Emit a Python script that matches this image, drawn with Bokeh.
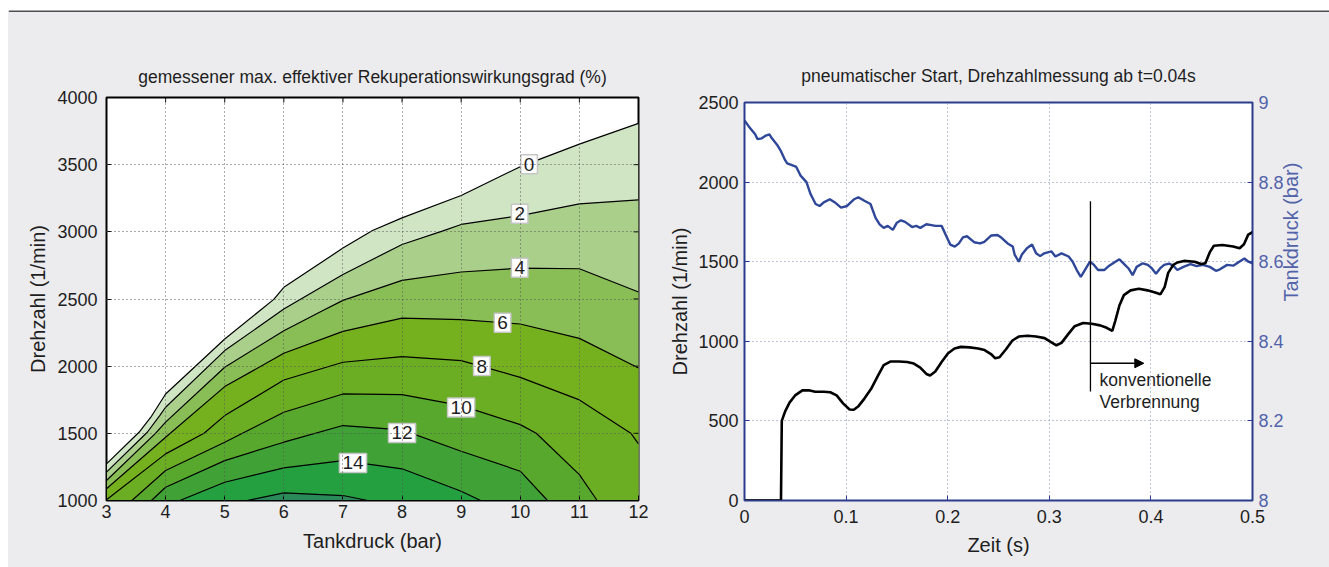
import math
from bokeh.plotting import figure
from bokeh.models import Range1d, LinearAxis, FixedTicker, Label, Arrow, NormalHead, Spacer
from bokeh.layouts import row, column
from bokeh.embed import file_html
from bokeh.resources import INLINE

FONT = "Liberation Sans"
BG = "#ececee"

# ---------------- left chart: contour lines (x = Tankdruck bar, y = Drehzahl 1/min) ----------------
levels = [0, 2, 4, 6, 8, 10, 12, 14, 16]
lvl_0_x = [3, 3.55, 3.75, 4, 5, 5.83, 6, 7, 7.5, 8, 9, 10, 11, 12]
lvl_0_y = [1273, 1508, 1620, 1793, 2202, 2497, 2587, 2879, 3010, 3104, 3270, 3485, 3653, 3807]
lvl_2_x = [3, 3.69, 3.9, 4, 5, 6, 7, 8, 8.68, 9, 10, 11, 12]
lvl_2_y = [1211, 1508, 1632, 1694, 2116, 2425, 2683, 2906, 3005, 3055, 3121, 3208, 3238]
lvl_4_x = [3, 3.82, 4, 5, 6, 6.67, 7, 8, 9, 10, 11, 12]
lvl_4_y = [1149, 1496, 1583, 1992, 2264, 2416, 2490, 2639, 2701, 2730, 2725, 2552]
lvl_6_x = [3, 4, 5, 6, 7, 8, 9, 10, 11, 12]
lvl_6_y = [1087, 1471, 1848, 2096, 2259, 2358, 2346, 2314, 2207, 1987]
lvl_8_x = [3, 4, 4.65, 5, 6, 7, 8, 9, 10, 11, 11.87, 12]
lvl_8_y = [1005, 1347, 1501, 1632, 1897, 2029, 2071, 2041, 1917, 1749, 1501, 1421]
lvl_10_x = [3.43, 4, 5, 5.3, 6, 7, 8, 9, 10, 10.27, 11, 11.3]
lvl_10_y = [1000, 1223, 1434, 1501, 1657, 1793, 1788, 1706, 1565, 1501, 1193, 1000]
lvl_12_x = [3.76, 4, 5, 6, 7, 8, 9, 10, 10.46]
lvl_12_y = [1000, 1099, 1297, 1434, 1558, 1526, 1367, 1218, 1000]
lvl_14_x = [4.24, 5, 6, 7, 8, 9, 9.33]
lvl_14_y = [1000, 1136, 1243, 1297, 1236, 1069, 1000]
lvl_16_x = [5.38, 6, 7, 7.42]
lvl_16_y = [1000, 1057, 1037, 1000]

band_colors = ["#d0e5c3", "#a9cf8a", "#89bd55", "#75b01f", "#6cae23", "#58a82d",
               "#40a236", "#25a040", "#2b8a5a"]

clabel_text = ["0", "2", "4", "6", "8", "10", "12", "14"]
clabel_x = [10.15, 9.99, 9.99, 9.70, 9.35, 9.0, 8.0, 7.17]
clabel_y = [3503, 3134, 2733, 2324, 2001, 1692, 1503, 1280]

left_xticks = [3, 4, 5, 6, 7, 8, 9, 10, 11, 12]
left_yticks = [1000, 1500, 2000, 2500, 3000, 3500, 4000]

# ---------------- right chart: time series ----------------
t_rpm = [0, 0.0359, 0.0367, 0.040, 0.0443, 0.0498, 0.057, 0.0633, 0.0696, 0.078, 0.0844,
         0.0907, 0.097, 0.1034, 0.1076, 0.1118, 0.118, 0.1245, 0.131, 0.137, 0.1435, 0.152,
         0.160, 0.1667, 0.173, 0.179, 0.1827, 0.1878, 0.194, 0.2004, 0.2067, 0.213, 0.2215,
         0.230, 0.2363, 0.2426, 0.2468, 0.251, 0.2574, 0.2637, 0.270, 0.2785, 0.287, 0.2954,
         0.3017, 0.307, 0.312, 0.3186, 0.325, 0.3333, 0.3418, 0.350, 0.3565, 0.362, 0.365,
         0.369, 0.3734, 0.380, 0.3882, 0.3966, 0.405, 0.4093, 0.4135, 0.417, 0.422, 0.426,
         0.4325, 0.443, 0.4494, 0.4536, 0.458, 0.462, 0.4705, 0.481, 0.4873, 0.4916, 0.4958, 0.5]
rpm = [0, 0, 500, 560, 615, 660, 692, 692, 683, 683, 680,
       660, 610, 572, 570, 590, 640, 700, 780, 850, 873, 873,
       870, 860, 835, 795, 785, 810, 870, 925, 955, 965, 962,
       955, 945, 920, 893, 900, 950, 1005, 1030, 1035, 1030, 1020,
       995, 975, 990, 1045, 1095, 1115, 1110, 1100, 1085, 1065, 1130,
       1225, 1290, 1320, 1330, 1320, 1305, 1295, 1340, 1430, 1480, 1495,
       1505, 1500, 1485, 1490, 1560, 1600, 1605, 1595, 1585, 1610, 1670, 1685]

t_tank = [0, 0.0042, 0.0105, 0.0127, 0.017, 0.021, 0.0245, 0.027, 0.032, 0.036, 0.040,
          0.042, 0.046, 0.051, 0.055, 0.061, 0.065, 0.070, 0.074, 0.078, 0.084, 0.089,
          0.095, 0.101, 0.108, 0.112, 0.118, 0.124, 0.129, 0.133, 0.137, 0.141, 0.146,
          0.150, 0.154, 0.158, 0.165, 0.169, 0.173, 0.179, 0.184, 0.188, 0.194, 0.198,
          0.2025, 0.207, 0.211, 0.215, 0.219, 0.226, 0.232, 0.236, 0.243, 0.249, 0.253,
          0.259, 0.264, 0.266, 0.270, 0.273, 0.278, 0.283, 0.287, 0.291, 0.295, 0.302,
          0.306, 0.312, 0.319, 0.323, 0.327, 0.331, 0.335, 0.340, 0.344, 0.348, 0.354,
          0.359, 0.365, 0.369, 0.373, 0.378, 0.382, 0.386, 0.392, 0.397, 0.401, 0.405,
          0.409, 0.413, 0.418, 0.422, 0.426, 0.432, 0.439, 0.445, 0.451, 0.458, 0.464,
          0.468, 0.475, 0.481, 0.487, 0.492, 0.496, 0.5]
tank = [8.955, 8.94, 8.92, 8.908, 8.91, 8.917, 8.92, 8.91, 8.894, 8.877, 8.855,
        8.847, 8.843, 8.838, 8.817, 8.80, 8.77, 8.745, 8.74, 8.749, 8.757, 8.749,
        8.736, 8.74, 8.757, 8.762, 8.753, 8.745, 8.71, 8.694, 8.685, 8.69, 8.68,
        8.698, 8.704, 8.70, 8.687, 8.69, 8.685, 8.694, 8.692, 8.69, 8.69, 8.668,
        8.643, 8.638, 8.646, 8.661, 8.664, 8.649, 8.646, 8.65, 8.666, 8.667, 8.66,
        8.646, 8.638, 8.617, 8.60, 8.618, 8.634, 8.643, 8.621, 8.614, 8.621, 8.626,
        8.613, 8.621, 8.613, 8.60, 8.579, 8.562, 8.579, 8.60, 8.592, 8.579, 8.579,
        8.59, 8.60, 8.606, 8.596, 8.583, 8.566, 8.587, 8.596, 8.592, 8.583, 8.57,
        8.583, 8.592, 8.595, 8.59, 8.579, 8.587, 8.594, 8.589, 8.592, 8.587, 8.577,
        8.581, 8.592, 8.59, 8.60, 8.608, 8.60, 8.596]

right_xticks = [0, 0.1, 0.2, 0.3, 0.4, 0.5]
right_xlabels = ["0", "0.1", "0.2", "0.3", "0.4", "0.5"]
rpm_ticks = [0, 500, 1000, 1500, 2000, 2500]
tank_ticks = [8, 8.2, 8.4, 8.6, 8.8, 9]
tank_labels = ["8", "8.2", "8.4", "8.6", "8.8", "9"]

# annotation (conventional combustion start)
ann_t = 0.3405
ann_rpm_lo, ann_rpm_hi = 685, 1880
arrow_rpm, arrow_t_end = 862, 0.393
ann_text = ["konventionelle", "Verbrennung"]
ann_text_t = 0.3495
ann_text_rpm = [754, 616]

BLUE_FRAME = "#2b3c8c"
BLUE_LINE = "#2f4798"
BLUE_TEXT = "#5263aa"
TXT = "#1e1e1e"


def style_common(p, frame_color):
    p.title.text_font = FONT
    p.title.text_font_size = "17.5px"
    p.title.text_font_style = "normal"
    p.title.text_color = TXT
    p.title.align = "center"
    p.outline_line_color = frame_color
    p.outline_line_width = 2
    p.outline_line_alpha = 1
    for ax in p.axis:
        ax.major_label_text_font = FONT
        ax.major_label_text_font_size = "18px"
        ax.major_label_text_color = TXT
        ax.axis_label_text_font = FONT
        ax.axis_label_text_font_size = "20px"
        ax.axis_label_text_font_style = "normal"
        ax.axis_label_text_color = TXT
        ax.major_tick_in = 5
        ax.major_tick_out = 0
        ax.minor_tick_in = 0
        ax.minor_tick_out = 0
        ax.axis_line_color = frame_color
        ax.major_tick_line_color = frame_color


# ---------------- top strip (white margin + dark rule) ----------------
strip = figure(width=1321, height=12, x_range=Range1d(0, 1), y_range=Range1d(0, 12),
               x_axis_type=None, y_axis_type=None, title=None, toolbar_location=None,
               output_backend="svg", min_border=0, outline_line_color=None,
               background_fill_color="white", border_fill_color="white")
rule_bottom, rule_top = 0, 2
strip.quad(left=[0], right=[1], bottom=[rule_bottom], top=[rule_top],
           fill_color="#4f4f51", line_color=None)

# ---------------- left figure ----------------
p1 = figure(width=657, height=555, x_range=Range1d(3, 12), y_range=Range1d(1000, 4000),
            output_backend="svg", toolbar_location=None,
            title="gemessener max. effektiver Rekuperationswirkungsgrad (%)",
            min_border_left=98, min_border_right=27, min_border_top=85, min_border_bottom=67,
            background_fill_color="white", border_fill_color=BG)

lvl_x = [lvl_0_x, lvl_2_x, lvl_4_x, lvl_6_x, lvl_8_x, lvl_10_x, lvl_12_x, lvl_14_x, lvl_16_x]
lvl_y = [lvl_0_y, lvl_2_y, lvl_4_y, lvl_6_y, lvl_8_y, lvl_10_y, lvl_12_y, lvl_14_y, lvl_16_y]
patch_xs = [lx + [lx[-1], lx[0]] for lx in lvl_x]
patch_ys = [ly + [1000, 1000] for ly in lvl_y]
p1.patches(xs=patch_xs, ys=patch_ys, fill_color=band_colors, line_color=None)
p1.multi_line(xs=lvl_x, ys=lvl_y, line_color="black", line_width=1.2)

# mirrored inward ticks on top and right edges
p1.ray(x=left_xticks, y=[4000] * len(left_xticks), length=5, length_units="screen",
       angle=-math.pi / 2, line_color="black", line_width=1)
p1.ray(x=[12] * len(left_yticks), y=left_yticks, length=5, length_units="screen",
       angle=math.pi, line_color="black", line_width=1)

for txt, lx, ly in zip(clabel_text, clabel_x, clabel_y):
    p1.add_layout(Label(x=lx, y=ly, text=txt, text_align="center", text_baseline="middle",
                        text_font=FONT, text_font_size="19px", text_color=TXT,
                        background_fill_color="white", border_line_color="#c6c6c6",
                        border_line_width=1.5, padding=3))

p1.xaxis.ticker = FixedTicker(ticks=left_xticks)
p1.yaxis.ticker = FixedTicker(ticks=left_yticks)
p1.xaxis.axis_label = "Tankdruck (bar)"
p1.yaxis.axis_label = "Drehzahl (1/min)"
style_common(p1, "black")
p1.title.standoff = 22
p1.xaxis.major_label_standoff = 4
p1.yaxis.major_label_standoff = 9
p1.xaxis.axis_label_standoff = 9
p1.yaxis.axis_label_standoff = 5
for g in (p1.xgrid, p1.ygrid):
    g.grid_line_color = "#555555"
    g.grid_line_dash = "1 3"
    g.grid_line_width = 1
    g.level = "overlay"

# ---------------- right figure ----------------
p2 = figure(width=664, height=550, x_range=Range1d(0, 0.5), y_range=Range1d(0, 2500),
            output_backend="svg", toolbar_location=None,
            title="pneumatischer Start, Drehzahlmessung ab t=0.04s",
            min_border_left=79, min_border_right=77, min_border_top=85, min_border_bottom=67,
            background_fill_color="white", border_fill_color=BG)
p2.extra_y_ranges = {"tank": Range1d(8, 9)}

p2.line(t_tank, tank, y_range_name="tank", line_color=BLUE_LINE, line_width=2.4)
p2.line(t_rpm, rpm, line_color="black", line_width=2.6)

p2.segment(x0=[ann_t], y0=[ann_rpm_lo], x1=[ann_t], y1=[ann_rpm_hi], line_color="black",
           line_width=1.3)
p2.add_layout(Arrow(x_start=ann_t, y_start=arrow_rpm, x_end=arrow_t_end, y_end=arrow_rpm,
                    line_color="black", line_width=1.3,
                    end=NormalHead(size=9, fill_color="black", line_color="black")))
for txt, yy in zip(ann_text, ann_text_rpm):
    p2.add_layout(Label(x=ann_text_t, y=yy, text=txt, text_align="left", text_baseline="middle",
                        text_font=FONT, text_font_size="17.5px", text_color=TXT))

p2.xaxis.ticker = FixedTicker(ticks=right_xticks)
p2.xaxis.major_label_overrides = {k: v for k, v in zip(right_xticks, right_xlabels)}
p2.yaxis.ticker = FixedTicker(ticks=rpm_ticks)
p2.xaxis.axis_label = "Zeit (s)"
p2.yaxis.axis_label = "Drehzahl (1/min)"
# right axis: ticks + labels
ax_r = LinearAxis(y_range_name="tank", ticker=FixedTicker(ticks=tank_ticks))
ax_r.major_label_overrides = {k: v for k, v in zip(tank_ticks, tank_labels)}
p2.add_layout(ax_r, "right")
# second right axis carrying only the (upward reading) axis title
ax_title = LinearAxis(y_range_name="tank", ticker=FixedTicker(ticks=[]),
                      axis_label="Tankdruck (bar)")
p2.add_layout(ax_title, "right")
style_common(p2, BLUE_FRAME)
ax_r.major_label_text_color = BLUE_TEXT
ax_r.major_label_standoff = 9
ax_title.axis_line_color = None
ax_title.major_tick_line_color = None
ax_title.major_tick_in = 0
ax_title.major_tick_out = 8
ax_title.axis_label_standoff = 0
ax_title.axis_label_text_color = BLUE_TEXT
if "axis_label_orientation" in ax_title.properties():
    try:
        ax_title.axis_label_orientation = math.pi / 2
    except Exception:
        pass
p2.title.standoff = 34
p2.xaxis.major_label_standoff = 9
p2.yaxis.major_label_standoff = 6
p2.xaxis.axis_label_standoff = 8
p2.yaxis.axis_label_standoff = 4
for g in (p2.xgrid, p2.ygrid):
    g.grid_line_color = "#7d86b3"
    g.grid_line_dash = "1 3"
    g.grid_line_width = 1

right_col = column(Spacer(width=664, height=5), p2)
charts = row(p1, right_col, styles={"background-color": BG})
layout = row(Spacer(width=8, height=567), column(strip, charts))
open("out.html", "w").write(file_html(layout, INLINE))
